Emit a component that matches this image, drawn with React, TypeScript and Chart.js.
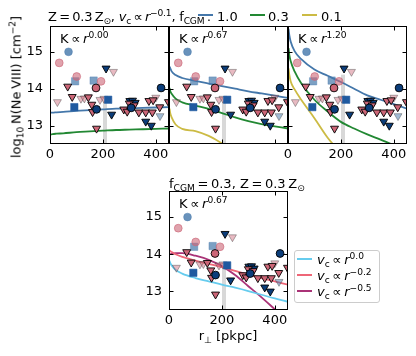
import React, { useEffect, useRef } from 'react';
import { Chart, registerables } from 'chart.js';

Chart.register(...registerables);

const W = 416;
const H = 356;
const FONT = "'DejaVu Sans', sans-serif";

// axes
const X_MIN = 0;
const X_MAX = 450;
const Y_MIN = 12.5;
const Y_MAX = 15.7;
const X_TICKS = [0, 200, 400];
const Y_TICKS = [13, 14, 15];

// model radii (pkpc)
const R = [2, 5, 10, 25, 50, 100, 150, 200, 250, 300, 350, 400, 450];

// panel 1: K ∝ r^0.00
const P1_F10 = [13.35, 13.35, 13.35, 13.36, 13.37, 13.4, 13.42, 13.44, 13.46, 13.47, 13.48, 13.49, 13.5];
const P1_F03 = [12.76, 12.76, 12.77, 12.78, 12.79, 12.82, 12.84, 12.86, 12.88, 12.89, 12.9, 12.91, 12.92];
// panel 2: K ∝ r^0.67
const P2_F10 = [14.6, 14.55, 14.47, 14.37, 14.29, 14.21, 14.14, 14.07, 14.0, 13.93, 13.87, 13.81, 13.75];
const P2_F03 = [14.02, 13.93, 13.86, 13.73, 13.63, 13.54, 13.45, 13.34, 13.22, 13.12, 13.04, 12.98, 12.92];
const P2_F01 = [13.46, 13.33, 13.22, 13.03, 12.91, 12.85, 12.72, 12.52, 12.3, null, null, null, null];
// panel 3: K ∝ r^1.20
const P3_F10 = [15.62, 15.45, 15.28, 15.02, 14.8, 14.52, 14.35, 14.18, 14.0, 13.82, 13.7, 13.58, 13.46];
const P3_F03 = [15.1, 14.92, 14.75, 14.47, 14.15, 13.7, 13.38, 13.1, 12.92, 12.76, 12.62, 12.47, 12.35];
const P3_F01 = [14.55, 14.38, 14.2, 13.98, 13.7, 13.2, 12.67, 12.25, null, null, null, null, null];
// bottom panel: fCGM = 0.3, K ∝ r^0.67
const B_VC00 = [13.82, 13.76, 13.7, 13.58, 13.48, 13.36, 13.27, 13.18, 13.1, 13.01, 12.91, 12.81, 12.72];
const B_VC02 = [14.1, 14.08, 14.06, 14.0, 13.93, 13.83, 13.74, 13.65, 13.55, 13.45, 13.36, 13.27, 13.18];
const B_VC05 = [14.0, 14.0, 14.01, 14.03, 14.03, 13.96, 13.85, 13.68, 13.44, 13.14, 12.84, 12.52, 12.2];

// shaded marker (radius, top of band) per panel
const BAND_R = 208;
const BAND_TOP = [13.68, 13.72, 14.38, 13.68];

// observations
const LIM_PINK_R = [67, 84, 145, 158, 161, 176, 279, 292, 300, 318, 336, 362, 374, 387, 390, 415, 448];
const LIM_PINK_N = [14.06, 13.78, 13.77, 13.57, 13.37, 12.92, 13.44, 13.38, 13.6, 13.55, 13.36, 13.36, 13.67, 13.36, 13.69, 13.5, 13.64];
const LIM_NAVY_R = [212, 233, 302, 312, 322, 362, 383];
const LIM_NAVY_N = [14.55, 13.3, 13.67, 13.68, 13.62, 13.11, 13.0];
const LIM_PINKF_R = [28, 117, 130, 189, 204, 240, 400];
const LIM_PINKF_N = [13.64, 13.73, 13.74, 13.7, 13.73, 14.46, 13.76];
const LIM_BLUEF_R = [416];
const LIM_BLUEF_N = [13.26];
const DET_PINKF_R = [35, 101, 193];
const DET_PINKF_N = [14.7, 14.33, 14.2];
const DET_PINK_R = [174];
const DET_PINK_N = [14.02];
const DET_NAVY_R = [176, 307, 420];
const DET_NAVY_N = [13.44, 13.48, 14.02];
const DET_BLUEF_R = [70];
const DET_BLUEF_N = [15.0];
const SQ_BLUEF_R = [95, 165];
const SQ_BLUEF_N = [14.2, 14.22];
const SQ_BLUE_R = [92, 220];
const SQ_BLUE_N = [13.5, 13.7];

const C_BLUE = '#4477AA';
const C_GREEN = '#228833';
const C_YELLOW = '#CCBB44';
const C_CYAN = '#66CCEE';
const C_RED = '#EE6677';
const C_PURPLE = '#AA3377';

const pts = (xs: number[], ys: (number | null)[]) => xs.map((x, i) => ({ x, y: ys[i] }));

function lineDs(ys: (number | null)[], color: string) {
  return {
    type: 'line',
    data: pts(R, ys),
    borderColor: color,
    borderWidth: 1.8,
    pointRadius: 0,
    showLine: true,
    cubicInterpolationMode: 'monotone',
    spanGaps: false,
    clip: 0,
    order: 50,
  };
}

function markerDs(xs: number[], ys: number[], style: string, fill: string, edge: string, radius: number, rotation = 0, order = 5) {
  return {
    type: 'scatter',
    data: pts(xs, ys),
    pointStyle: style,
    pointRadius: radius,
    pointRotation: rotation,
    backgroundColor: fill,
    borderColor: edge,
    pointBorderWidth: 0.9,
    borderWidth: 0.9,
    showLine: false,
    clip: 0,
    order,
  };
}

function observationDatasets() {
  return [
    markerDs(LIM_PINKF_R, LIM_PINKF_N, 'triangle', 'rgba(204,102,119,0.45)', 'rgba(60,60,60,0.45)', 4.6, 180, 9),
    markerDs(LIM_BLUEF_R, LIM_BLUEF_N, 'triangle', 'rgba(68,119,170,0.5)', 'rgba(60,60,60,0.45)', 4.6, 180, 9),
    markerDs(DET_PINKF_R, DET_PINKF_N, 'circle', 'rgba(204,102,119,0.6)', 'rgba(204,102,119,0.7)', 3.9, 0, 8),
    markerDs(DET_BLUEF_R, DET_BLUEF_N, 'circle', 'rgba(68,119,170,0.8)', 'rgba(68,119,170,0.5)', 3.9, 0, 8),
    markerDs(SQ_BLUEF_R, SQ_BLUEF_N, 'rect', 'rgba(68,119,170,0.7)', 'rgba(68,119,170,0.4)', 5.2, 0, 8),
    markerDs(SQ_BLUE_R, SQ_BLUE_N, 'rect', '#1f5aa0', 'rgba(31,90,160,0.6)', 5.2, 0, 7),
    markerDs(LIM_PINK_R, LIM_PINK_N, 'triangle', '#CC6677', '#000000', 4.6, 180, 6),
    markerDs(LIM_NAVY_R, LIM_NAVY_N, 'triangle', '#0b3d7a', '#000000', 4.6, 180, 6),
    markerDs(DET_PINK_R, DET_PINK_N, 'circle', '#CC6677', '#000000', 3.9, 0, 5),
    markerDs(DET_NAVY_R, DET_NAVY_N, 'circle', '#0b3d7a', '#000000', 3.9, 0, 5),
  ];
}

const framePlugin = {
  id: 'frameTicks',
  afterDatasetsDraw(chart: any) {
    const { ctx, chartArea: a, scales } = chart;
    const L = Math.round(a.left) + 0.5;
    const Rr = Math.round(a.right) - 0.5;
    const T = Math.round(a.top) + 0.5;
    const B = Math.round(a.bottom) - 0.5;
    ctx.save();
    ctx.strokeStyle = '#000';
    ctx.lineWidth = 1;
    ctx.strokeRect(L, T, Rr - L, B - T);
    const tl = 4;
    ctx.beginPath();
    for (const t of scales.x.ticks) {
      const px = Math.round(scales.x.getPixelForValue(t.value)) + 0.5;
      ctx.moveTo(px, B); ctx.lineTo(px, B - tl);
      ctx.moveTo(px, T); ctx.lineTo(px, T + tl);
    }
    for (const t of scales.y.ticks) {
      const py = Math.round(scales.y.getPixelForValue(t.value)) + 0.5;
      ctx.moveTo(L, py); ctx.lineTo(L + tl, py);
      ctx.moveTo(Rr, py); ctx.lineTo(Rr - tl, py);
    }
    ctx.stroke();
    ctx.restore();
  },
};

type Panel = {
  l: number; t: number; r: number; b: number;
  showX: boolean; showY: boolean;
  lines: any[];
  band: number;
};

function makeConfig(p: Panel): any {
  const YW = 40;
  const XH = 24;
  const tickFont = { family: FONT, size: 13 };
  return {
    type: 'scatter',
    data: {
      datasets: [
        {
          type: 'line',
          data: [{ x: BAND_R, y: Y_MIN }, { x: BAND_R, y: p.band }],
          borderColor: 'rgba(190,190,190,0.6)',
          borderWidth: 4,
          borderCapStyle: 'butt',
          pointRadius: 0,
          clip: 0,
          order: 100,
        },
        ...p.lines,
        ...observationDatasets(),
      ],
    },
    options: {
      responsive: false,
      animation: false,
      events: [],
      layout: {
        autoPadding: false,
        padding: { left: p.l - YW, top: p.t, right: W - p.r, bottom: H - p.b - XH },
      },
      plugins: { legend: { display: false }, tooltip: { enabled: false }, title: { display: false } },
      scales: {
        x: {
          type: 'linear',
          min: X_MIN,
          max: X_MAX,
          afterBuildTicks: (s: any) => { s.ticks = X_TICKS.map((v) => ({ value: v })); },
          afterFit: (s: any) => { s.height = XH; },
          grid: { display: false, drawTicks: false },
          border: { display: false },
          ticks: { display: p.showX, font: tickFont, color: '#000', padding: 3, maxRotation: 0, autoSkip: false },
        },
        y: {
          type: 'linear',
          min: Y_MIN,
          max: Y_MAX,
          afterBuildTicks: (s: any) => { s.ticks = Y_TICKS.map((v) => ({ value: v })); },
          afterFit: (s: any) => { s.width = YW; },
          grid: { display: false, drawTicks: false },
          border: { display: false },
          ticks: { display: p.showY, font: tickFont, color: '#000', padding: 7, autoSkip: false },
        },
      },
    },
    plugins: [framePlugin],
  };
}

const PANELS: Panel[] = [
  { l: 50, t: 26, r: 169, b: 144, showX: true, showY: true, band: BAND_TOP[0],
    lines: [lineDs(P1_F10, C_BLUE), lineDs(P1_F03, C_GREEN)] },
  { l: 169, t: 26, r: 288, b: 144, showX: false, showY: false, band: BAND_TOP[1],
    lines: [lineDs(P2_F10, C_BLUE), lineDs(P2_F03, C_GREEN), lineDs(P2_F01, C_YELLOW)] },
  { l: 288, t: 26, r: 407, b: 144, showX: true, showY: false, band: BAND_TOP[2],
    lines: [lineDs(P3_F10, C_BLUE), lineDs(P3_F03, C_GREEN), lineDs(P3_F01, C_YELLOW)] },
  { l: 169, t: 191, r: 288, b: 310, showX: true, showY: true, band: BAND_TOP[3],
    lines: [lineDs(B_VC00, C_CYAN), lineDs(B_VC02, C_RED), lineDs(B_VC05, C_PURPLE)] },
];

function PanelChart({ panel }: { panel: Panel }) {
  const ref = useRef<HTMLCanvasElement | null>(null);
  useEffect(() => {
    if (!ref.current) return;
    const chart = new Chart(ref.current, makeConfig(panel));
    return () => chart.destroy();
  }, [panel]);
  return (
    <canvas
      ref={ref}
      width={W}
      height={H}
      style={{ position: 'absolute', left: 0, top: 0, width: W, height: H }}
    />
  );
}

const Sup = ({ children }: { children: React.ReactNode }) => (
  <span style={{ fontSize: '0.7em', position: 'relative', top: '-0.55em' }}>{children}</span>
);
const Sub = ({ children }: { children: React.ReactNode }) => (
  <span style={{ fontSize: '0.7em', position: 'relative', top: '0.3em' }}>{children}</span>
);
const It = ({ children }: { children: React.ReactNode }) => (
  <span style={{ fontStyle: 'italic' }}>{children}</span>
);

const text: React.CSSProperties = {
  position: 'absolute',
  fontFamily: FONT,
  fontSize: 13,
  lineHeight: 1,
  color: '#000',
  whiteSpace: 'nowrap',
};

const Swatch = ({ left, top, color }: { left: number; top: number; color: string }) => (
  <div style={{ position: 'absolute', left, top, width: 15, height: 2, background: color }} />
);

const K_LABELS = ['0.00', '0.67', '1.20', '0.67'];
const K_POS = [[60, 32], [179, 32], [298, 32], [179, 197]];

export default function App() {
  return (
    <div style={{ position: 'fixed', left: 0, top: 0, width: W, height: H, background: '#fff', overflow: 'hidden' }}>
      {PANELS.map((p, i) => <PanelChart key={i} panel={p} />)}

      {/* top title + legend */}
      <div style={{ ...text, left: 48, top: 10, letterSpacing: -0.2 }}>
        Z{'\u2009'}={'\u2009'}0.3{'\u2009'}Z<Sub>⊙</Sub>,{' '}<It>v</It><Sub>c</Sub>{'\u2009'}∝{'\u2009'}<It>r</It><Sup>−0.1</Sup>,{' '}f<Sub>CGM</Sub>{'\u2009'}:
      </div>
      <Swatch left={198} top={14} color={C_BLUE} />
      <div style={{ ...text, left: 217, top: 10 }}>1.0</div>
      <Swatch left={250} top={14} color={C_GREEN} />
      <div style={{ ...text, left: 268, top: 10 }}>0.3</div>
      <Swatch left={302} top={14} color={C_YELLOW} />
      <div style={{ ...text, left: 321, top: 10 }}>0.1</div>

      {/* K labels */}
      {K_LABELS.map((k, i) => (
        <div key={i} style={{ ...text, left: K_POS[i][0], top: K_POS[i][1] }}>
          K{'\u2009'}∝{'\u2009'}<It>r</It><Sup>{k}</Sup>
        </div>
      ))}

      {/* y axis label */}
      <div style={{ ...text, left: 16, top: 87, transform: 'translate(-50%, -50%) rotate(-90deg)' }}>
        log<Sub>10</Sub>{'\u2009'}N(Ne{'\u2009'}VIII){' '}[cm<Sup>−2</Sup>]
      </div>

      {/* bottom panel title */}
      <div style={{ ...text, left: 169, top: 177 }}>
        f<Sub>CGM</Sub>{'\u2009'}={'\u2009'}0.3,{' '}Z{'\u2009'}={'\u2009'}0.3{'\u2009'}Z<Sub>⊙</Sub>
      </div>

      {/* x axis label */}
      <div style={{ ...text, left: 228, top: 329, transform: 'translateX(-50%)' }}>
        r<Sub>⊥</Sub>{' '}[pkpc]
      </div>

      {/* bottom legend */}
      <div style={{ position: 'absolute', left: 294, top: 250, width: 84, height: 51, border: '1px solid #cccccc', borderRadius: 3, background: 'rgba(255,255,255,0.8)' }} />
      {[['0.0', C_CYAN], ['−0.2', C_RED], ['−0.5', C_PURPLE]].map(([e, c], i) => (
        <React.Fragment key={i}>
          <Swatch left={297} top={258 + i * 16} color={c} />
          <div style={{ ...text, left: 317, top: 253 + i * 16 }}>
            <It>v</It><Sub>c</Sub>{'\u2009'}∝{'\u2009'}<It>r</It><Sup>{e}</Sup>
          </div>
        </React.Fragment>
      ))}
    </div>
  );
}
